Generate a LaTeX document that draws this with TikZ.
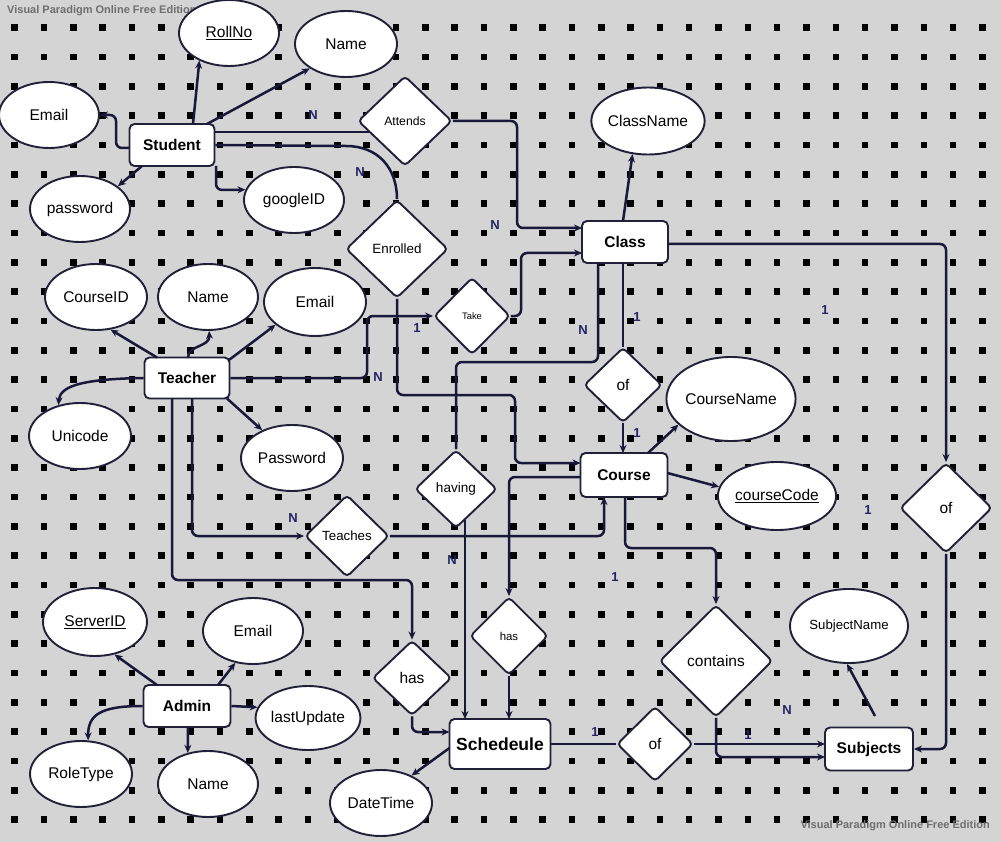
\documentclass[tikz,border=0pt]{standalone}
\usepackage{fontspec}
\setmainfont{Liberation Sans}
\usetikzlibrary{shapes.geometric,arrows.meta,calc}
\definecolor{bg}{RGB}{212,212,212}
\definecolor{lc}{RGB}{24,24,58}
\definecolor{bc}{RGB}{32,32,56}
\definecolor{lab}{RGB}{35,35,100}
\definecolor{wm}{RGB}{110,110,110}
\begin{document}
\begin{tikzpicture}[x=1pt,y=-1pt,
 ent/.style={draw=bc,line width=1.9pt,fill=white,rounded corners=5pt,inner sep=0pt,font=\fontsize{15.5}{18}\selectfont\bfseries},
 att/.style={ellipse,draw=bc,line width=1.9pt,fill=white,inner sep=0pt,font=\fontsize{15.5}{18}\selectfont},
 rel/.style={diamond,draw=bc,line width=1.9pt,fill=white,rounded corners=4pt,inner sep=0pt,font=\fontsize{15.5}{18}\selectfont},
 conn/.style={draw=lc,line width=2.5pt,rounded corners=6pt},
 arr/.style={-{Stealth[length=8pt,width=7pt]}},
 card/.style={font=\fontsize{13}{15}\selectfont\bfseries,text=lab,inner sep=0pt},
 wmark/.style={font=\fontsize{11}{13}\selectfont\bfseries,text=wm,inner sep=0pt}]
\useasboundingbox (0,0) rectangle (1001,842);
\fill[bg] (0,0) rectangle (1001,842);
\foreach \i in {0,...,33}{\foreach \j in {0,...,27}{\fill[black] ({11.3+29.33*\i},{24.4+29.33*\j}) rectangle ++(6.6,6.6);}}
% watermarks
\node[wmark,anchor=west] (wm1) at (7,11) {Visual Paradigm Online Free Edition};
\node[wmark,anchor=east] (wm2) at (990,826) {Visual Paradigm Online Free Edition};
% entities
\node[ent,minimum width=85,minimum height=42] (student) at (172,145) {Student};
\node[ent,minimum width=86,minimum height=42] (class) at (625,242) {Class};
\node[ent,minimum width=85,minimum height=41] (teacher) at (187,378) {Teacher};
\node[ent,minimum width=87,minimum height=44] (course) at (624,475) {Course};
\node[ent,minimum width=87,minimum height=42] (admin) at (187,706) {Admin};
\node[ent,minimum width=101,minimum height=50,font=\fontsize{17.5}{20}\selectfont\bfseries] (sched) at (500,744) {Schedeule};
\node[ent,minimum width=88,minimum height=43] (subjects) at (869,749) {Subjects};
% attributes
\node[att,minimum width=100,minimum height=66] (rollno) at (229,33) {\underline{RollNo}};
\node[att,minimum width=102,minimum height=66] (sname) at (346,44) {Name};
\node[att,minimum width=100,minimum height=66] (semail) at (49,115) {Email};
\node[att,minimum width=100,minimum height=66] (spass) at (80,209) {password};
\node[att,minimum width=100,minimum height=66] (sgoogle) at (294,200) {googleID};
\node[att,minimum width=100,minimum height=67] (classname) at (648,121) {ClassName};
\node[att,minimum width=102,minimum height=66] (courseid) at (96,297) {CourseID};
\node[att,minimum width=100,minimum height=66] (tname) at (208,297) {Name};
\node[att,minimum width=102,minimum height=68] (temail) at (315,302) {Email};
\node[att,minimum width=102,minimum height=66] (unicode) at (80,436) {Unicode};
\node[att,minimum width=102,minimum height=66] (tpass) at (292,458) {Password};
\node[att,minimum width=128,minimum height=84] (coursename) at (731,399) {CourseName};
\node[att,minimum width=102,minimum height=68] (coursecode) at (777,496) {\underline{courseCode}};
\node[att,minimum width=118,minimum height=74,font=\fontsize{13.2}{16}\selectfont] (subjname) at (849,626) {SubjectName};
\node[att,minimum width=104,minimum height=68] (serverid) at (95,622) {\underline{ServerID}};
\node[att,minimum width=100,minimum height=66] (aemail) at (253,631) {Email};
\node[att,minimum width=102,minimum height=64] (lastupdate) at (308,718) {lastUpdate};
\node[att,minimum width=102,minimum height=66] (roletype) at (81,774) {RoleType};
\node[att,minimum width=100,minimum height=66] (aname) at (208,784) {Name};
\node[att,minimum width=102,minimum height=66] (datetime) at (381,803) {DateTime};
% relationships
\node[rel,minimum width=94,minimum height=90,font=\fontsize{12.2}{14}\selectfont] (attends) at (405,121) {Attends};
\node[rel,minimum width=102,minimum height=98,font=\fontsize{13.4}{16}\selectfont] (enrolled) at (397,249) {Enrolled};
\node[rel,minimum width=76,minimum height=77,font=\fontsize{9.4}{11}\selectfont] (take) at (472,316) {Take};
\node[rel,minimum width=78,minimum height=75] (ofcc) at (623,385) {of};
\node[rel,minimum width=82,minimum height=78,font=\fontsize{13.6}{16}\selectfont] (having) at (456,489) {having};
\node[rel,minimum width=84,minimum height=82,font=\fontsize{13.3}{16}\selectfont] (teaches) at (347,536) {Teaches};
\node[rel,minimum width=92,minimum height=90] (ofr) at (946,508) {of};
\node[rel,minimum width=79,minimum height=75] (hasl) at (412,678) {has};
\node[rel,minimum width=78,minimum height=78,font=\fontsize{11.4}{13}\selectfont] (hasm) at (509,636) {has};
\node[rel,minimum width=113,minimum height=112] (contains) at (716,661) {contains};
\node[rel,minimum width=76,minimum height=75] (ofb) at (655,744) {of};
% connectors: student
\draw[conn,arr] ($(student)+(21,-21)$) -- (rollno.223);
\draw[conn,arr] ($(student)+(35,-21)$) -- (sname.214);
\draw[conn,arr] ($(student)+(-42.5,3)$) -- (116,148) -- (116,115) -- (semail.east);
\draw[conn,arr] ($(student)+(-30,21)$) -- (spass.31);
\draw[conn,arr] ($(student)+(44,21)$) -- (216,190) -- (sgoogle.168);
\draw[conn] ($(student)+(42.5,-13)$) -- ($(attends)+(-36,11)$);
\draw[conn] (student.east) -- (340,146) .. controls (378,146) and (397,168) .. (enrolled.north);
\draw[conn,arr] (attends.east) -- (517,121) -- (517,228) -- ($(class)+(-43,-14)$);
\draw[conn,arr] (enrolled.south) -- (397,395) -- (515,395) -- (515,463) -- ($(course)+(-43.5,-12)$);
% teacher
\draw[conn,arr] (teacher.east) -- (367,378) -- (367,316) -- (take.west);
\draw[conn,arr] (take.east) -- (521,316) -- (521,253) -- ($(class)+(-43,11)$);
\draw[conn,arr] ($(teacher)+(5,20.5)$) -- (192,536) -- (teaches.west);
\draw[conn,arr] (teaches.east) -- (604,536) -- ($(course)+(-20,22)$);
\draw[conn,arr] ($(teacher)+(-15,20.5)$) -- (172,580) -- (412,580) -- (hasl.north);
\draw[conn,arr] ($(teacher)+(-30,-20.5)$) -- (courseid.294);
\draw[conn,arr] ($(teacher)+(1,-20.5)$) .. controls (188,345) and (210,347) .. (tname.272);
\draw[conn,arr] ($(teacher)+(42,-18)$) -- (temail.210);
\draw[conn,arr] (teacher.west) .. controls (75,379) and (60,388) .. (unicode.125);
\draw[conn,arr] ($(teacher)+(40,20.5)$) -- (tpass.137);
% class / course
\draw[conn] ($(class)+(-2,21)$) -- (ofcc.north);
\draw[conn] (having.north) -- (456,362) -- (598,362) -- ($(class)+(-27,21)$);
\draw[conn,arr] (ofcc.south) -- ($(course)+(-1,-22)$);
\draw[conn,arr] ($(class)+(-2,-21)$) -- (classname.245);
\draw[conn,arr] ($(class)+(43,2)$) -- (946,244) -- (ofr.north);
\draw[conn,arr] (ofr.south) -- (946,749) -- (subjects.east);
\draw[conn,arr] ($(course)+(24,-22)$) -- (coursename.206);
\draw[conn,arr] ($(course)+(43.5,-2)$) -- (coursecode.171);
\draw[conn,arr] ($(course)+(-43.5,2)$) -- (509,477) -- (hasm.north);
\draw[conn,arr] ($(course)+(1,22)$) -- (625,548) -- (716,548) -- (contains.north);
\draw[conn,arr] (contains.south) -- (716,757) -- ($(subjects)+(-44,8)$);
% schedule
\draw[conn,arr] (hasl.south) -- (412,732) -- ($(sched)+(-50.5,-12)$);
\draw[conn,arr] ($(having)+(9,31)$) -- ($(sched)+(-35,-25)$);
\draw[conn,arr] (hasm.south) -- ($(sched)+(9,-25)$);
\draw[conn] (sched.east) -- (ofb.west);
\draw[conn,arr] (ofb.east) -- ($(subjects)+(-44,-5)$);
\draw[conn,arr] ($(sched)+(-50.5,4)$) -- (datetime.42);
\draw[conn,arr] ($(subjects)+(6,-33)$) -- (subjname.267);
% admin
\draw[conn,arr] ($(admin)+(-30,-21)$) -- (serverid.301);
\draw[conn,arr] ($(admin)+(31,-21)$) -- (aemail.241);
\draw[conn,arr] (admin.east) -- (lastupdate.168);
\draw[conn,arr] (admin.west) .. controls (100,706) and (88,715) .. (roletype.78);
\draw[conn,arr] ($(admin)+(1,21)$) -- (aname.123);
% cardinalities
\node[card] (c1) at (313,115) {N};
\node[card] (c2) at (360,172) {N};
\node[card] (c3) at (495,225) {N};
\node[card] (c4) at (417,328) {1};
\node[card] (c5) at (378,377) {N};
\node[card] (c6) at (583,330) {N};
\node[card] (c7) at (637,317) {1};
\node[card] (c8) at (637,433) {1};
\node[card] (c9) at (293,518) {N};
\node[card] (c10) at (452,560) {N};
\node[card] (c11) at (615,577) {1};
\node[card] (c12) at (825,310) {1};
\node[card] (c13) at (868,510) {1};
\node[card] (c14) at (787,710) {N};
\node[card] (c15) at (748,735) {1};
\node[card] (c16) at (595,732) {1};
\end{tikzpicture}
\end{document}
